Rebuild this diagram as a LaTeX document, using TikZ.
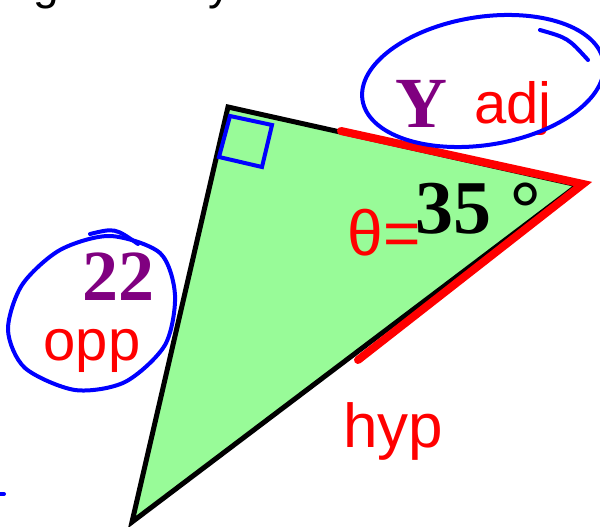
\documentclass[tikz,border=0pt]{standalone}
\usepackage{fontspec}
\setmainfont{Liberation Serif}
\setsansfont{Liberation Sans}
\usetikzlibrary{positioning}
\definecolor{ypurple}{RGB}{128,0,128}
\definecolor{trigreen}{RGB}{152,251,152}

\begin{document}
\begin{tikzpicture}[x=1pt, y=-1pt,
    val/.style={font=\bfseries\fontsize{72}{72}\selectfont, anchor=base, inner sep=0pt},
    hand/.style={font=\sffamily\fontsize{58}{58}\selectfont, text=red, anchor=base, inner sep=0pt},
    loop/.style={draw=blue, line width=4pt, line cap=round},
    redstroke/.style={draw=red, line width=8pt, line cap=round, line join=miter},
]
\useasboundingbox (0,0) rectangle (600,527);
\node[font=\sffamily\fontsize{46}{46}\selectfont, anchor=base] (g) at (46,0) {g};
\node[font=\sffamily\fontsize{46}{46}\selectfont, anchor=base] (y) at (220,0) {y};

\coordinate (A) at (228,107);
\coordinate (B) at (578,185);
\coordinate (C) at (132,522);
\fill[trigreen] (A) -- (B) -- (C) -- cycle;
\draw[line width=5pt] (A) -- (B) -- (C) -- cycle;
\draw[blue, line width=4pt] (230,116) -- (272,125) -- (262,167) -- (219,157) -- cycle;

\coordinate (adjs) at (341,131);
\coordinate (tip) at (583,184);
\coordinate (hype) at (358,360);
\draw[redstroke] (adjs) -- (tip) -- (hype);

\node[val, text=ypurple] (yval) at (421,127) {Y};
\node[val, text=ypurple] (opp22) at (118,300) {22};
\node[val, anchor=base west, font=\bfseries\fontsize{76}{76}\selectfont] (ang) at (415,233) {35 °};
\node[hand] (adj) at (513,123) {adj};
\node[hand] (opp) at (92,360) {opp};
\node[hand, font=\sffamily\fontsize{62}{62}\selectfont] (hyp) at (393,447) {hyp};
\node[hand, font=\sffamily\fontsize{64}{64}\selectfont] (theta) at (384,255) {θ=};

\draw[loop] (483,81) ellipse[x radius=122, y radius=64, rotate=9];
\draw[loop] (540,30) .. controls (568,38) .. (588,60);
\draw[loop] plot[smooth cycle] coordinates {(110,236) (160,253) (175,295) (165,345)
    (125,382) (75,390) (25,368) (8,330) (22,285) (60,250)};
\draw[loop] (90,234) .. controls (115,228) .. (138,244);
\draw[loop] (-5,494) -- (4,494);
\end{tikzpicture}
\end{document}
